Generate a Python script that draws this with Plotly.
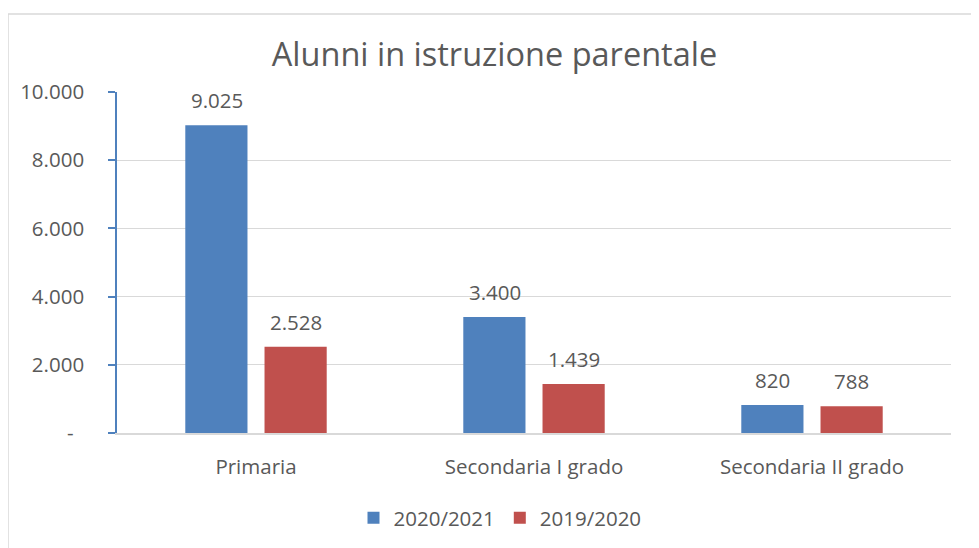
import plotly.graph_objects as go

categories = ["Primaria", "Secondaria I grado", "Secondaria II grado"]
series_names = ["2020/2021", "2019/2020"]
values_2020_21 = [9025, 3400, 820]
values_2019_20 = [2528, 1439, 788]
tick_vals = [0, 2000, 4000, 6000, 8000, 10000]
tick_text = ["-\u00a0\u00a0", "2.000", "4.000", "6.000", "8.000", "10.000"]

BLUE = "#4F81BD"
RED = "#C0504D"
GREY_TXT = "#595959"
FONT = "'Open Sans', sans-serif"
TXT = 20.5

# the page body adds an 8px margin, so pixel targets are offset by 8
OFF = 8
L, R, T, B = 117 - OFF, 951 - OFF, 92 - OFF, 433 - OFF
PW, PH = R - L, B - T


def fmt(v):
    return f"{v:,}".replace(",", ".")


fig = go.Figure()
fig.add_trace(go.Bar(x=categories, y=values_2020_21, name=series_names[0],
                     marker=dict(color=BLUE, line=dict(width=0))))
fig.add_trace(go.Bar(x=categories, y=values_2019_20, name=series_names[1],
                     marker=dict(color=RED, line=dict(width=0))))

# data labels above each bar
annotations = []
for vals, shift in ((values_2020_21, -39.5), (values_2019_20, 39.5)):
    for cat, v in zip(categories, vals):
        annotations.append(dict(
            x=cat, y=v, xref="x", yref="y", text=fmt(v), showarrow=False,
            xshift=shift, yshift=25, yanchor="middle",
            font=dict(family=FONT, size=TXT, color=GREY_TXT),
        ))

fig.update_layout(
    width=979,
    height=548,
    margin=dict(l=L, r=979 - R, t=T, b=548 - B),
    paper_bgcolor="white",
    plot_bgcolor="white",
    barmode="group",
    bargap=0.43,
    bargroupgap=0.215,
    separators=",.",
    font=dict(family=FONT, size=TXT, color=GREY_TXT),
    title=dict(text="Alunni in istruzione parentale", x=(494.5 - OFF) / 979, xanchor="center",
               y=1 - (55 - OFF) / 548, yanchor="middle",
               font=dict(family=FONT, size=32.5, color=GREY_TXT)),
    showlegend=True,
    legend=dict(orientation="h", x=(500 - OFF - L) / PW, xanchor="center",
                y=(B - (518 - OFF)) / PH, yanchor="middle",
                font=dict(family=FONT, size=TXT, color=GREY_TXT),
                traceorder="normal"),
    annotations=annotations,
    shapes=[dict(type="rect", xref="paper", yref="paper",
                 x0=(8 - OFF - L) / PW, x1=1.2, y0=-0.5, y1=(B - (14 - OFF)) / PH,
                 line=dict(color="#D9D9D9", width=1.5), fillcolor="rgba(0,0,0,0)",
                 layer="below")],
)

fig.update_xaxes(
    showgrid=False,
    showline=True, linecolor="#D9D9D9", linewidth=1.5,
    ticks="", ticklabelstandoff=15,
    tickfont=dict(family=FONT, size=TXT, color=GREY_TXT),
)
fig.update_yaxes(
    range=[0, 10000],
    tickvals=tick_vals, ticktext=tick_text,
    showgrid=True, gridcolor="#D9D9D9", gridwidth=1.3,
    showline=True, linecolor=BLUE, linewidth=1.5,
    ticks="outside", ticklen=7, tickcolor=BLUE, tickwidth=1.5,
    ticklabelstandoff=20,
    zeroline=False,
    tickfont=dict(family=FONT, size=TXT, color=GREY_TXT),
)

fig.write_html("out.html")
